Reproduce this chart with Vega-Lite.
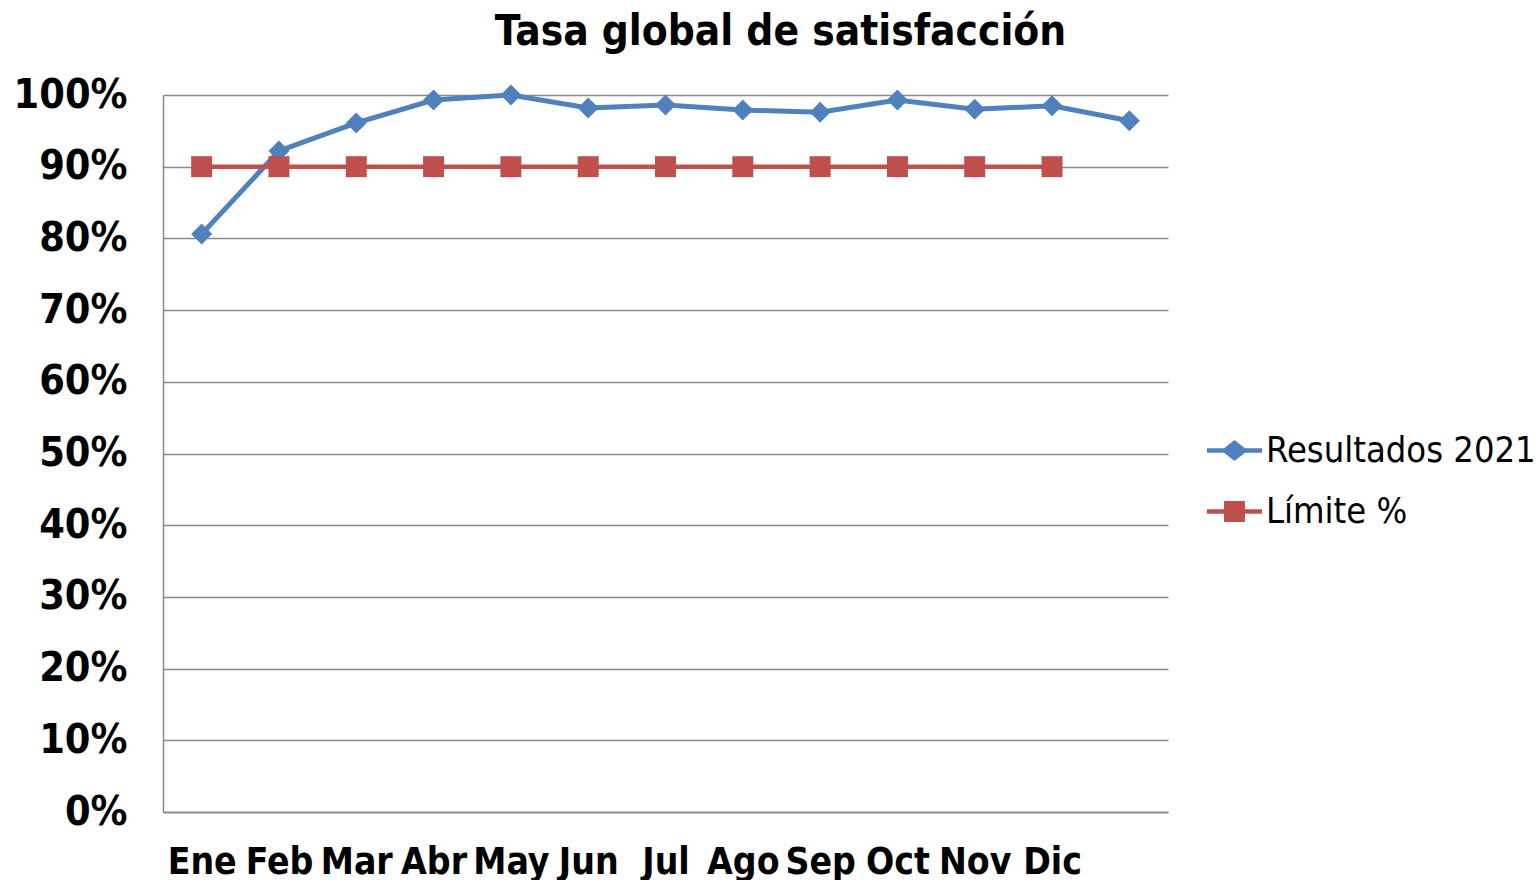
{
  "$schema": "https://vega.github.io/schema/vega-lite/v6.json",
  "width": 1005,
  "height": 717,
  "autosize": "none",
  "padding": {"left": 163, "top": 95, "right": 371, "bottom": 68},
  "background": "white",
  "title": {
    "text": "Tasa global de satisfacción",
    "font": "DejaVu Sans Condensed",
    "fontWeight": "bold",
    "fontSize": 42,
    "color": "black",
    "anchor": "middle",
    "frame": "group",
    "dx": 115,
    "offset": 20
  },
  "config": {"view": {"stroke": null}},
  "data": {
    "values": [
      {"mes": "Ene", "serie": "Resultados 2021", "valor": 0.806},
      {"mes": "Feb", "serie": "Resultados 2021", "valor": 0.922},
      {"mes": "Mar", "serie": "Resultados 2021", "valor": 0.961},
      {"mes": "Abr", "serie": "Resultados 2021", "valor": 0.993},
      {"mes": "May", "serie": "Resultados 2021", "valor": 1.0},
      {"mes": "Jun", "serie": "Resultados 2021", "valor": 0.982},
      {"mes": "Jul", "serie": "Resultados 2021", "valor": 0.986},
      {"mes": "Ago", "serie": "Resultados 2021", "valor": 0.979},
      {"mes": "Sep", "serie": "Resultados 2021", "valor": 0.976},
      {"mes": "Oct", "serie": "Resultados 2021", "valor": 0.993},
      {"mes": "Nov", "serie": "Resultados 2021", "valor": 0.980},
      {"mes": "Dic", "serie": "Resultados 2021", "valor": 0.985},
      {"mes": "_", "serie": "Resultados 2021", "valor": 0.964},
      {"mes": "Ene", "serie": "Límite %", "valor": 0.9},
      {"mes": "Feb", "serie": "Límite %", "valor": 0.9},
      {"mes": "Mar", "serie": "Límite %", "valor": 0.9},
      {"mes": "Abr", "serie": "Límite %", "valor": 0.9},
      {"mes": "May", "serie": "Límite %", "valor": 0.9},
      {"mes": "Jun", "serie": "Límite %", "valor": 0.9},
      {"mes": "Jul", "serie": "Límite %", "valor": 0.9},
      {"mes": "Ago", "serie": "Límite %", "valor": 0.9},
      {"mes": "Sep", "serie": "Límite %", "valor": 0.9},
      {"mes": "Oct", "serie": "Límite %", "valor": 0.9},
      {"mes": "Nov", "serie": "Límite %", "valor": 0.9},
      {"mes": "Dic", "serie": "Límite %", "valor": 0.9}
    ]
  },
  "encoding": {
    "x": {
      "field": "mes",
      "type": "nominal",
      "sort": ["Ene", "Feb", "Mar", "Abr", "May", "Jun", "Jul", "Ago", "Sep", "Oct", "Nov", "Dic", "_"],
      "scale": {"type": "point", "padding": 0.5},
      "axis": {
        "title": null,
        "labelAngle": 0,
        "labelFont": "DejaVu Sans Condensed",
        "labelFontSize": 37,
        "labelFontWeight": "bold",
        "labelColor": "black",
        "labelOverlap": false,
        "labelPadding": 32,
        "labelExpr": "datum.value == '_' ? '' : datum.value",
        "ticks": false,
        "grid": false,
        "domainColor": "#898989",
        "domainWidth": 1.5
      }
    },
    "y": {
      "field": "valor",
      "type": "quantitative",
      "scale": {"domain": [0, 1], "nice": false, "zero": true},
      "axis": {
        "title": null,
        "values": [0, 0.1, 0.2, 0.3, 0.4, 0.5, 0.6, 0.7, 0.8, 0.9, 1.0],
        "format": ".0%",
        "labelFont": "DejaVu Sans Condensed",
        "labelFontSize": 41,
        "labelFontWeight": "bold",
        "labelColor": "black",
        "labelPadding": 36,
        "ticks": false,
        "grid": true,
        "gridColor": "#898989",
        "gridWidth": 1.5,
        "domainColor": "#898989",
        "domainWidth": 1.5
      }
    },
    "color": {
      "field": "serie",
      "type": "nominal",
      "scale": {"domain": ["Resultados 2021", "Límite %"], "range": ["#4F81BD", "#C0504D"]},
      "legend": {
        "title": null,
        "orient": "none",
        "legendX": 1044,
        "legendY": 328,
        "labelFont": "DejaVu Sans Condensed",
        "labelFontSize": 36,
        "labelColor": "black",
        "labelLimit": 0,
        "symbolSize": 3025,
        "labelOffset": 4,
        "rowPadding": 15,
        "padding": 0,
        "encode": {
          "symbols": {
            "update": {
              "shape": {"signal": "datum.value === 'Resultados 2021' ? 'M-1,-0.08L-0.38,-0.08L0,-0.38L0.38,-0.08L1,-0.08L1,0.08L0.38,0.08L0,0.38L-0.38,0.08L-1,0.08Z' : 'M-1,-0.08L-0.38,-0.08L-0.38,-0.38L0.38,-0.38L0.38,-0.08L1,-0.08L1,0.08L0.38,0.08L0.38,0.38L-0.38,0.38L-0.38,0.08L-1,0.08Z'"},
              "fill": {"signal": "datum.value === 'Resultados 2021' ? '#4F81BD' : '#C0504D'"},
              "size": {"value": 3025},
              "opacity": {"value": 1},
              "fillOpacity": {"value": 1},
              "strokeWidth": {"value": 0}
            }
          }
        }
      }
    }
  },
  "layer": [
    {
      "transform": [{"filter": "datum.serie === 'Resultados 2021'"}],
      "mark": {"type": "line", "strokeWidth": 5}
    },
    {
      "transform": [{"filter": "datum.serie === 'Resultados 2021'"}],
      "mark": {"type": "point", "filled": true, "opacity": 1, "shape": "diamond", "size": 441}
    },
    {
      "transform": [{"filter": "datum.serie === 'Límite %'"}],
      "mark": {"type": "line", "strokeWidth": 4.5}
    },
    {
      "transform": [{"filter": "datum.serie === 'Límite %'"}],
      "mark": {"type": "point", "filled": true, "opacity": 1, "shape": "square", "size": 441}
    }
  ]
}
